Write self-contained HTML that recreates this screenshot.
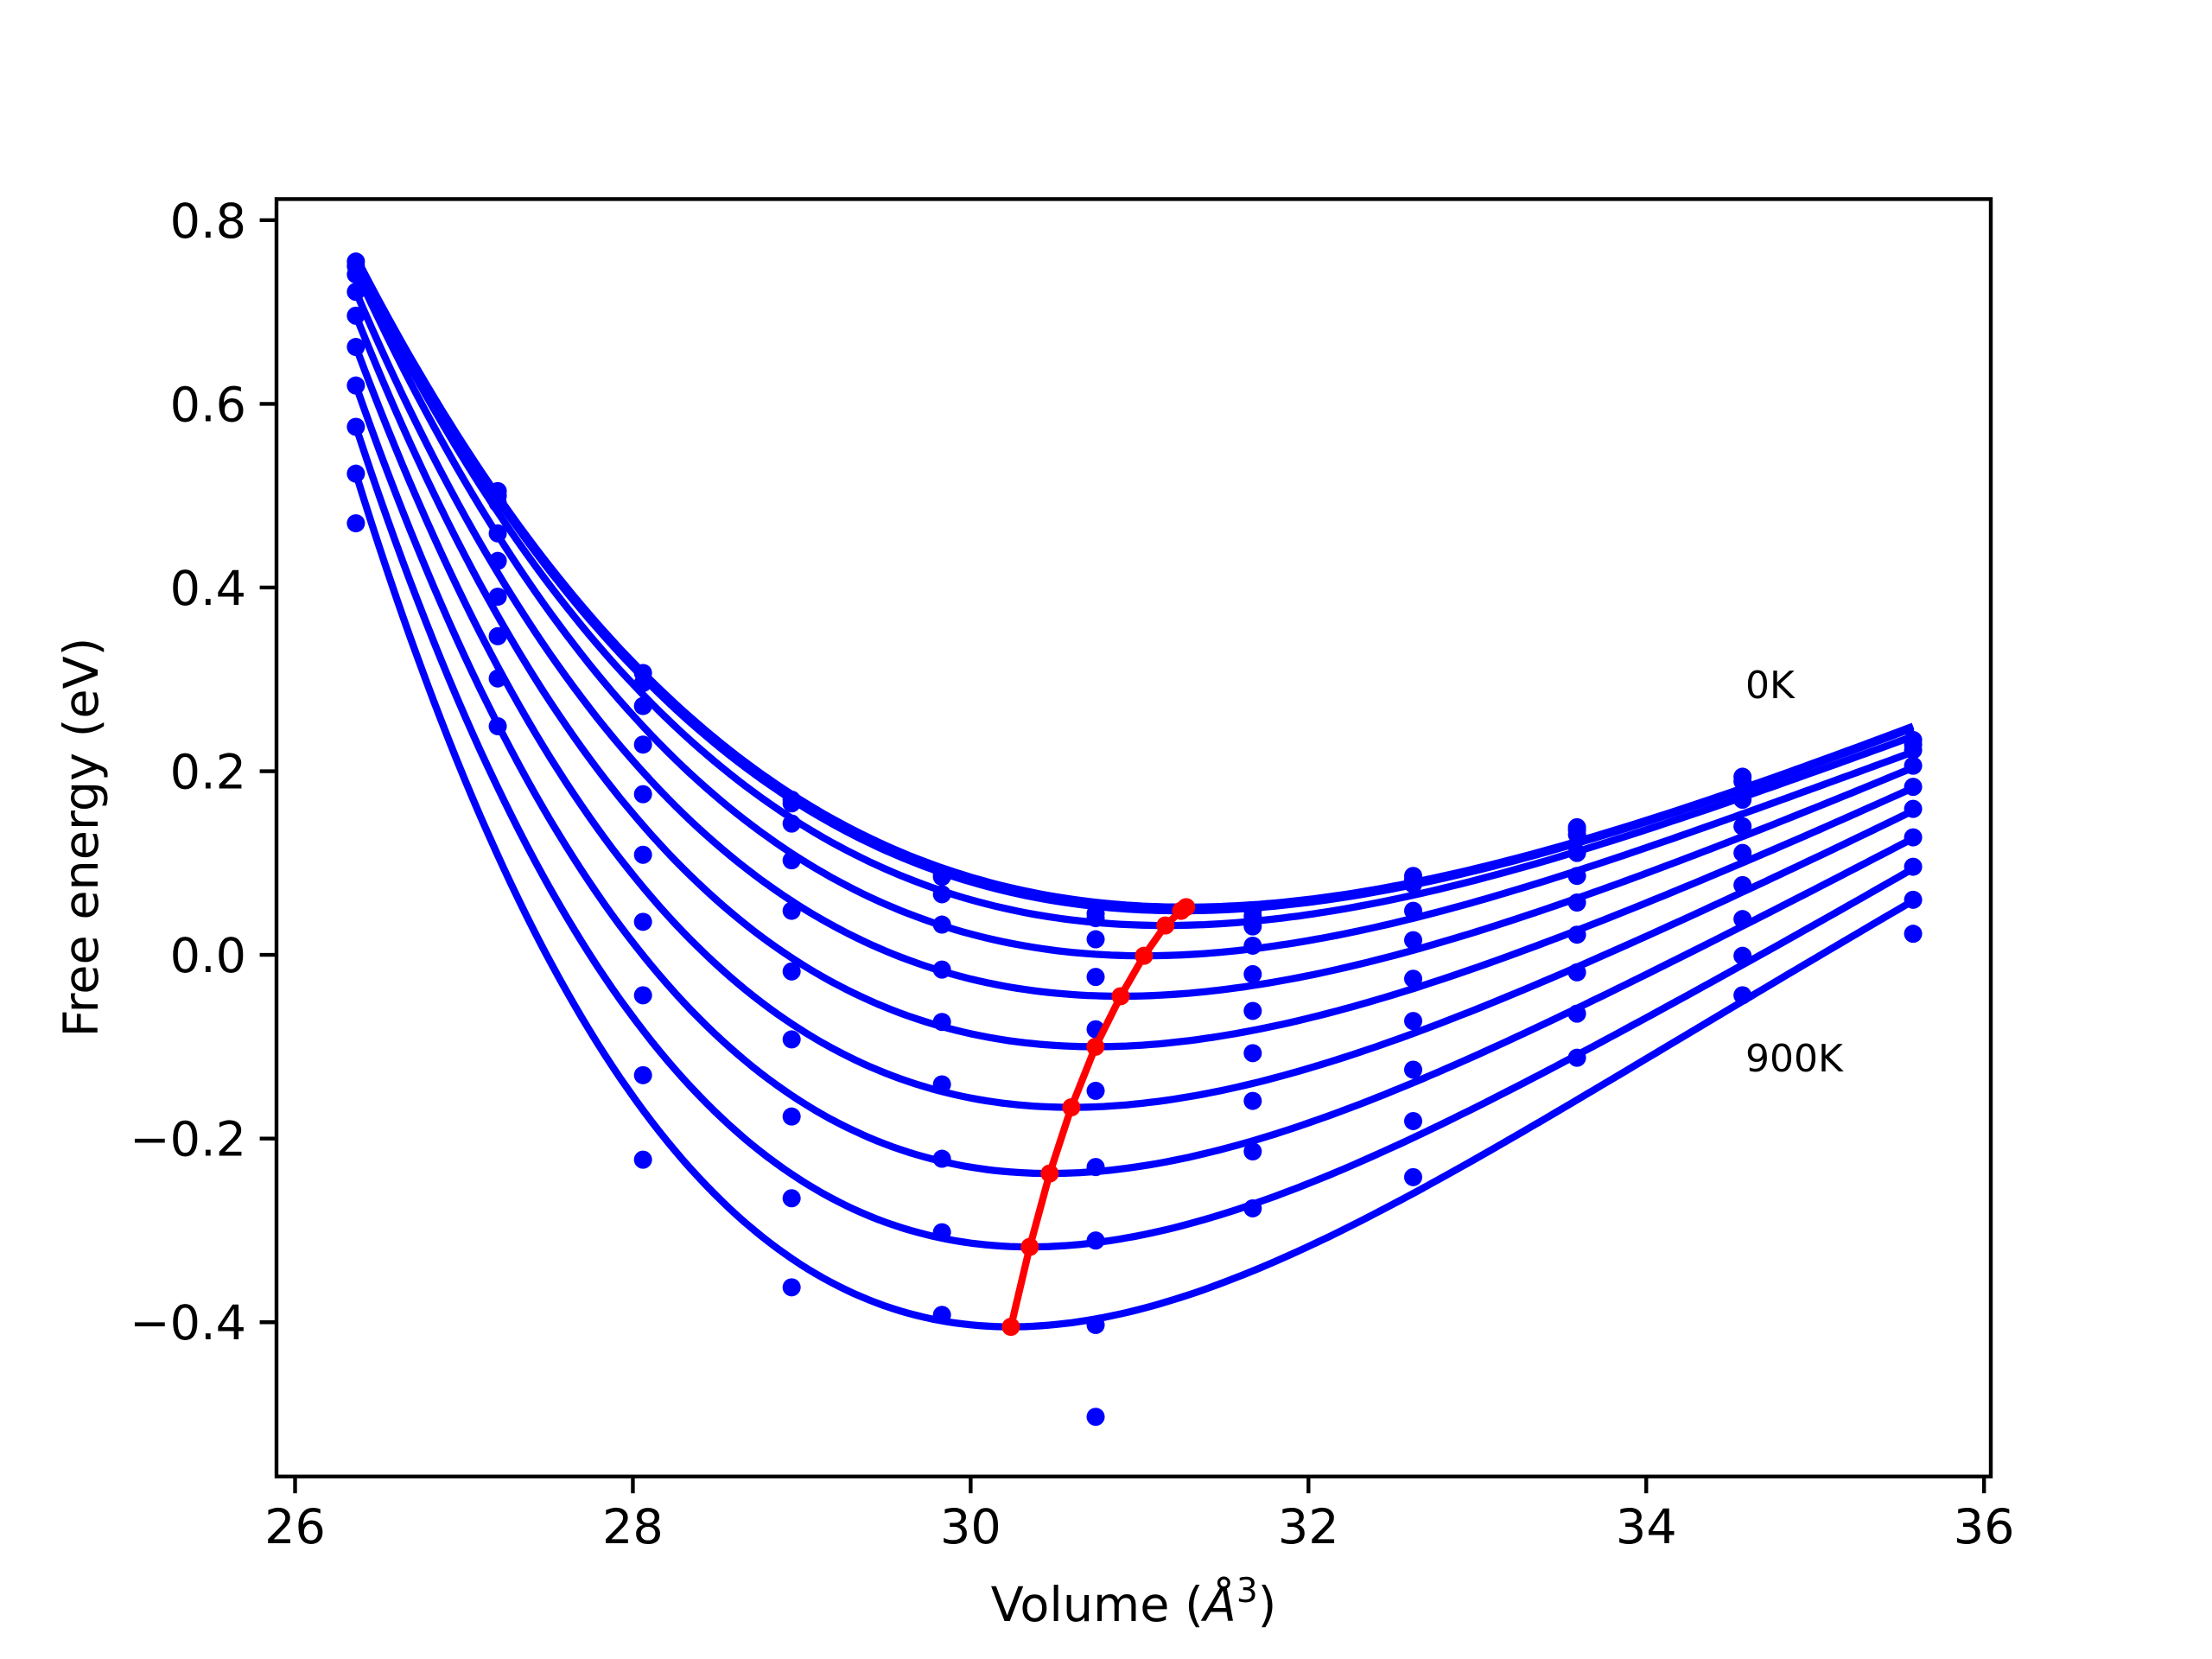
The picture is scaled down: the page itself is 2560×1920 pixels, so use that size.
<!DOCTYPE html>
<html><head><meta charset="utf-8"><style>
html,body{margin:0;padding:0;background:#fff;}
svg{display:block;font-family:"DejaVu Sans","Liberation Sans",sans-serif;}
</style></head><body>
<svg id="chart" width="2560" height="1920" viewBox="0 0 2560 1920" xmlns="http://www.w3.org/2000/svg">
<rect width="2560" height="1920" fill="#fff"/>
<g id="curves"></g>
<g id="pts"></g>
<g id="minline"></g>
<g id="axes"></g>
<text x="2020" y="808" font-size="44">0K</text>
<text x="2020" y="1240" font-size="44">900K</text>
<text x="1312" y="1876" font-size="55.6" text-anchor="middle">Volume (<tspan font-style="italic">Å</tspan><tspan dy="-22" font-size="39">3</tspan><tspan dy="22">)</tspan></text>
<text transform="translate(113,969) rotate(-90)" font-size="55.6" text-anchor="middle">Free energy (eV)</text>
</svg>
<script>
// data
const volumes = [26.36, 27.20, 28.06, 28.94, 29.83, 30.74, 31.67, 32.62, 33.59, 34.57, 35.58];
const pointsByVolume = [
  [0.755,0.750,0.741,0.722,0.696,0.662,0.620,0.575,0.524,0.470],
  [0.505,0.500,0.492,0.459,0.429,0.390,0.347,0.301,0.249],
  [0.307,0.296,0.271,0.229,0.175,0.109,0.036,-0.044,-0.131,-0.223],
  [0.169,0.165,0.143,0.103,0.048,-0.018,-0.092,-0.176,-0.265,-0.362],
  [0.088,0.085,0.066,0.033,-0.016,-0.073,-0.141,-0.222,-0.302,-0.392],
  [0.045,0.040,0.017,-0.024,-0.081,-0.148,-0.231,-0.311,-0.403,-0.503],
  [0.048,0.042,0.031,0.010,-0.021,-0.061,-0.107,-0.159,-0.214,-0.276],
  [0.086,0.082,0.077,0.048,0.016,-0.026,-0.072,-0.125,-0.181,-0.242],
  [0.139,0.136,0.131,0.111,0.086,0.057,0.022,-0.019,-0.064,-0.112],
  [0.194,0.189,0.169,0.140,0.111,0.076,0.039,-0.001,-0.044],
  [0.234,0.229,0.223,0.206,0.183,0.159,0.128,0.096,0.060,0.023]
];
const minVolumes = [31.276,31.246,31.153,31.026,30.888,30.739,30.596,30.468,30.350,30.238];
const minEnergies = [0.052,0.048,0.032,-0.001,-0.045,-0.100,-0.166,-0.238,-0.318,-0.405];
const leftEnergies = [0.760,0.758,0.754,0.745,0.722,0.696,0.662,0.620,0.575,0.524];
const midVolume = 33.58;
const midEnergies = [0.123,0.121,0.112,0.091,0.061,0.026,-0.014,-0.059,-0.110,-0.159];
const rightEnergies = [0.249,0.247,0.238,0.221,0.204,0.182,0.157,0.127,0.094,0.059];
const xTicks = [26,28,30,32,34,36];
const yTicks = [-0.4,-0.2,0.0,0.2,0.4,0.6,0.8];
const yTickLabels = ["\u22120.4","\u22120.2","0.0","0.2","0.4","0.6","0.8"];

const NS="http://www.w3.org/2000/svg";
const L=320,R=2304,T=230.4,B=1708.8;
const XMIN=25.89,XMAX=36.04,YMIN=-0.568,YMAX=0.823;
function sx(v){return L+(v-XMIN)/(XMAX-XMIN)*(R-L);}
function sy(v){return B-(v-YMIN)/(YMAX-YMIN)*(B-T);}
function mk(tag,attrs,parent){const e=document.createElementNS(NS,tag);for(const k in attrs)e.setAttribute(k,attrs[k]);parent.appendChild(e);return e;}
function solve3(M,y){
  const A=M.map((r,i)=>r.concat([y[i]]));
  for(let i=0;i<3;i++){
    let p=i;for(let k=i+1;k<3;k++)if(Math.abs(A[k][i])>Math.abs(A[p][i]))p=k;
    [A[i],A[p]]=[A[p],A[i]];
    for(let k=0;k<3;k++){if(k===i)continue;const f=A[k][i]/A[i][i];for(let j=i;j<4;j++)A[k][j]-=f*A[i][j];}
  }
  return [A[0][3]/A[0][0],A[1][3]/A[1][1],A[2][3]/A[2][2]];
}

const vL=volumes[0], vR=volumes[volumes.length-1];
const gc=document.getElementById('curves');
for(let i=0;i<minVolumes.length;i++){
  const V0=minVolumes[i],E0=minEnergies[i];
  const ds=[vL-V0,midVolume-V0,vR-V0];
  const es=[leftEnergies[i]-E0,midEnergies[i]-E0,rightEnergies[i]-E0];
  const M=ds.map(d=>[d*d,d*d*d,d*d*d*d]);
  const [a,b,c]=solve3(M,es);
  let p="";
  for(let k=0;k<=200;k++){
    const v=vL+(vR-vL)*k/200, d=v-V0;
    const e=E0+a*d*d+b*d*d*d+c*d*d*d*d;
    p+=(k?"L":"M")+sx(v).toFixed(1)+" "+sy(e).toFixed(1);
  }
  const path=mk('path',{d:p,fill:'none',stroke:'#0000ff','stroke-width':8.3,'stroke-linejoin':'round'},gc);
  
  
}
const gp=document.getElementById('pts');
volumes.forEach((v,i)=>{pointsByVolume[i].forEach(e=>{
  const c=mk('circle',{cx:sx(v),cy:sy(e),r:10.5,fill:'#0000ff'},gp);
  
  
});});
const gm=document.getElementById('minline');
let mp="";
minVolumes.forEach((v,i)=>{mp+=(i?"L":"M")+sx(v)+" "+sy(minEnergies[i]);});
const ml=mk('path',{d:mp,fill:'none',stroke:'#ff0000','stroke-width':8.3,'stroke-linejoin':'round'},gm);


minVolumes.forEach((v,i)=>{
  const c=mk('circle',{cx:sx(v),cy:sy(minEnergies[i]),r:10.5,fill:'#ff0000'},gm);
  
  
});
const ga=document.getElementById('axes');
const fr=mk('rect',{x:L,y:T,width:R-L,height:B-T,fill:'none',stroke:'#000','stroke-width':4.4},ga);


xTicks.forEach(t=>{
  const x=sx(t);
  const ln=mk('line',{x1:x,x2:x,y1:B,y2:B+19.4,stroke:'#000','stroke-width':4.4},ga);
  
  
  const tx=mk('text',{x:x,y:B+77,'font-size':55.6,'text-anchor':'middle'},ga);
  tx.textContent=String(t);
  
  
});
yTicks.forEach((t,i)=>{
  const y=sy(t);
  const ln=mk('line',{x1:L-19.4,x2:L,y1:y,y2:y,stroke:'#000','stroke-width':4.4},ga);
  
  
  const tx=mk('text',{x:L-35,y:y+20,'font-size':55.6,'text-anchor':'end'},ga);
  tx.textContent=yTickLabels[i];
  
  
});
</script>
</body></html>
